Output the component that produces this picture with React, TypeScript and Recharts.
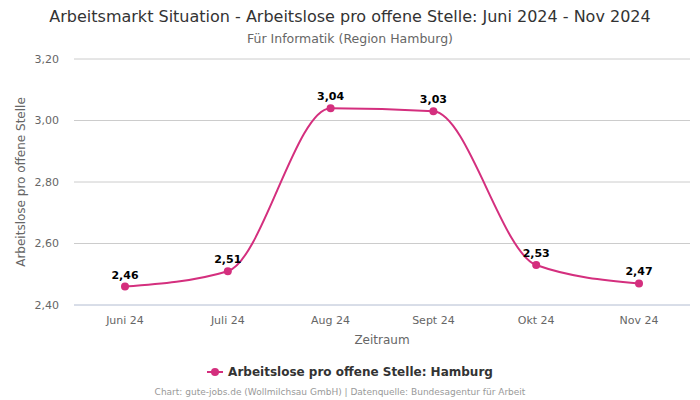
import { LineChart, Line, XAxis, YAxis, CartesianGrid, LabelList } from 'recharts';

const months = ['Juni 24', 'Juli 24', 'Aug 24', 'Sept 24', 'Okt 24', 'Nov 24'];
const hamburg = [2.46, 2.51, 3.04, 3.03, 2.53, 2.47];
const yTicks = [2.4, 2.6, 2.8, 3.0, 3.2];

const seriesName = 'Arbeitslose pro offene Stelle: Hamburg';
const color = '#d42f7e';
const font = '"DejaVu Sans", sans-serif';

const fmt = (v: number) => v.toFixed(2).replace('.', ',');

export default function App() {
    const data = months.map((m, i) => ({ month: m, value: hamburg[i] }));

    return (
        <div style={{ position: 'absolute', left: 0, top: 0, width: 700, height: 400, fontFamily: font, background: '#fff' }}>
            <div style={{ position: 'absolute', top: 7, left: 0, width: 700, textAlign: 'center', fontSize: 16, color: '#333' }}>
                Arbeitsmarkt Situation - Arbeitslose pro offene Stelle: Juni 2024 - Nov 2024
            </div>
            <div style={{ position: 'absolute', top: 31, left: 0, width: 700, textAlign: 'center', fontSize: 12.5, color: '#666' }}>
                Für Informatik (Region Hamburg)
            </div>

            <LineChart width={700} height={400} data={data} margin={{ top: 59, right: 10, left: 0, bottom: 56 }}>
                <CartesianGrid vertical={false} stroke="#cccccc" />
                <XAxis
                    dataKey="month"
                    padding={{ left: 51, right: 51 }}
                    tickLine={false}
                    axisLine={{ stroke: '#ccd6eb' }}
                    tick={{ fontSize: 11, fill: '#666', fontFamily: font }}
                    tickMargin={5}
                    height={39}
                    label={{ value: 'Zeitraum', position: 'insideBottom', offset: 0, fontSize: 12, fill: '#666', fontFamily: font }}
                />
                <YAxis
                    domain={[2.4, 3.2]}
                    ticks={yTicks}
                    tickFormatter={fmt}
                    axisLine={false}
                    tickLine={false}
                    width={74}
                    tickMargin={9}
                    tick={{ fontSize: 11, fill: '#666', fontFamily: font }}
                    label={{ value: 'Arbeitslose pro offene Stelle', angle: -90, position: 'insideLeft', offset: 21, style: { textAnchor: 'middle' }, fontSize: 12, fill: '#666', fontFamily: font }}
                />
                <Line
                    type="monotone"
                    dataKey="value"
                    stroke={color}
                    strokeWidth={2}
                    dot={{ r: 4, fill: color, stroke: color, strokeWidth: 0 }}
                    activeDot={false}
                    isAnimationActive={false}
                >
                    <LabelList
                        dataKey="value"
                        position="top"
                        offset={8}
                        formatter={(v: any) => fmt(Number(v))}
                        style={{ fontSize: 11, fontWeight: 'bold', fill: '#000', fontFamily: font }}
                    />
                </Line>
            </LineChart>

            <div style={{ position: 'absolute', top: 365, left: 0, width: 700, display: 'flex', justifyContent: 'center', alignItems: 'center', fontSize: 12, fontWeight: 'bold', color: '#333' }}>
                <svg width={16} height={10} style={{ marginRight: 5 }}>
                    <line x1={0} y1={5} x2={16} y2={5} stroke={color} strokeWidth={2} />
                    <circle cx={8} cy={5} r={4} fill={color} />
                </svg>
                {seriesName}
            </div>
            <div style={{ position: 'absolute', top: 387, left: 0, width: 680, textAlign: 'center', fontSize: 9, color: '#999' }}>
                Chart: gute-jobs.de (Wollmilchsau GmbH) | Datenquelle: Bundesagentur für Arbeit
            </div>
        </div>
    );
}
